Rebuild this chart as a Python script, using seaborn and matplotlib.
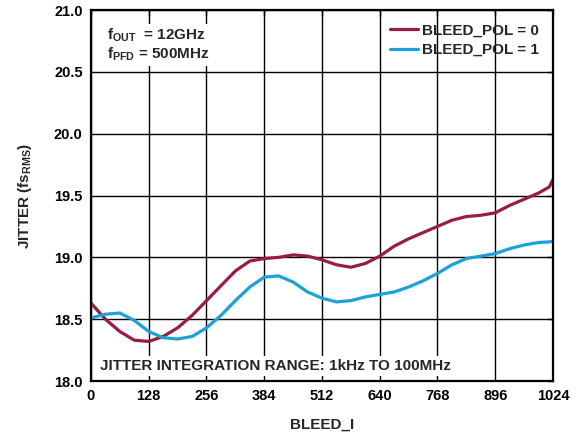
import numpy as np
import pandas as pd
import matplotlib
matplotlib.use("Agg")
import matplotlib.pyplot as plt
import seaborn as sns

# values
bleed_i = [0, 32, 64, 96, 128, 160, 192, 224, 256, 288, 320, 352, 384, 416, 448,
           480, 512, 544, 576, 608, 640, 672, 704, 736, 768, 800, 832, 864, 896,
           928, 960, 992, 1016, 1024]
jitter_pol0 = [18.63, 18.50, 18.40, 18.33, 18.32, 18.36, 18.43, 18.53, 18.65, 18.77,
               18.89, 18.97, 18.99, 19.00, 19.02, 19.01, 18.98, 18.94, 18.92, 18.95,
               19.01, 19.09, 19.15, 19.20, 19.25, 19.30, 19.33, 19.34, 19.36, 19.42,
               19.47, 19.52, 19.57, 19.63]
jitter_pol1 = [18.51, 18.54, 18.55, 18.49, 18.40, 18.35, 18.34, 18.36, 18.43, 18.53,
               18.65, 18.76, 18.84, 18.85, 18.80, 18.72, 18.67, 18.64, 18.65, 18.68,
               18.70, 18.72, 18.76, 18.81, 18.87, 18.94, 18.99, 19.01, 19.03, 19.07,
               19.10, 19.12, 19.125, 19.13]
series_names = ["BLEED_POL = 0", "BLEED_POL = 1"]
x_ticks = [0, 128, 256, 384, 512, 640, 768, 896, 1024]
y_ticks = [18.0, 18.5, 19.0, 19.5, 20.0, 20.5, 21.0]

df = pd.concat([
    pd.DataFrame({"BLEED_I": bleed_i, "jitter": jitter_pol0, "series": series_names[0]}),
    pd.DataFrame({"BLEED_I": bleed_i, "jitter": jitter_pol1, "series": series_names[1]}),
])

sns.set_style("white")
plt.rcParams["font.family"] = ["Liberation Sans", "DejaVu Sans"]
plt.rcParams["font.weight"] = "bold"
plt.rcParams["mathtext.fontset"] = "custom"
plt.rcParams["mathtext.rm"] = "Liberation Sans:bold"
plt.rcParams["mathtext.bf"] = "Liberation Sans:bold"
plt.rcParams["mathtext.default"] = "bf"

fig = plt.figure(figsize=(5.78, 4.37), dpi=100)
ax = fig.add_axes([0.1574, 0.1281, 0.7993, 0.849])

palette = {series_names[0]: "#9B1B47", series_names[1]: "#1AA3D9"}
sns.lineplot(data=df, x="BLEED_I", y="jitter", hue="series", palette=palette,
             linewidth=2.3, ax=ax, legend=True)

ax.set_xlim(0, 1024)
ax.set_ylim(18.0, 21.0)
ax.set_xticks(x_ticks)
ax.set_yticks(y_ticks)
ax.set_yticklabels([f"{v:.1f}" for v in y_ticks])
ax.grid(True, color="black", linewidth=1.0)
ax.set_axisbelow(True)
for s in ax.spines.values():
    s.set_color("black")
    s.set_linewidth(1.6)
ax.tick_params(direction="in", length=4, width=1, top=True, right=True,
               labelsize=10.5, colors="black", pad=6)
for lab in ax.get_xticklabels() + ax.get_yticklabels():
    lab.set_fontweight("bold")

ax.set_xlabel("BLEED_I", fontsize=11, fontweight="bold", labelpad=10)
ax.set_ylabel("JITTER (fs$_{RMS}$)", fontsize=11, fontweight="bold", labelpad=14)

leg = ax.legend(loc="upper right", frameon=False, fontsize=11, handlelength=1.8,
                handletextpad=0.3, labelspacing=0.35, borderaxespad=0.5)
for t in leg.get_texts():
    t.set_fontweight("bold")

ax.text(0.035, 0.955, "f$_{OUT}$  = 12GHz\nf$_{PFD}$ = 500MHz", transform=ax.transAxes,
        fontsize=11, fontweight="bold", va="top", ha="left", linespacing=1.1,
        bbox=dict(facecolor="white", edgecolor="none", pad=2))
ax.text(0.02, 0.04, "JITTER INTEGRATION RANGE: 1kHz TO 100MHz", transform=ax.transAxes,
        fontsize=11, fontweight="bold", va="center", ha="left",
        bbox=dict(facecolor="white", edgecolor="none", pad=2))

fig.savefig("out.png", dpi=100)
